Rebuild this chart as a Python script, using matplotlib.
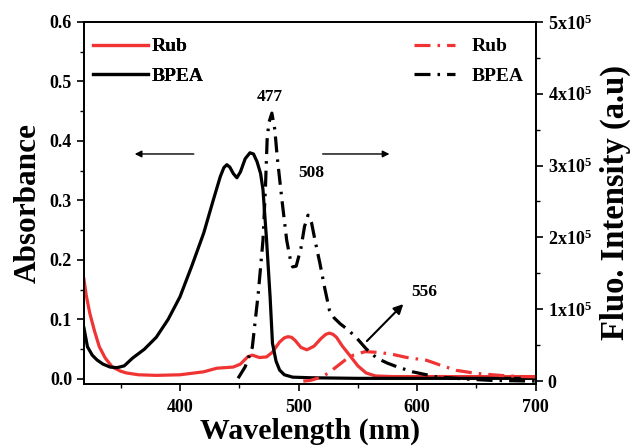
import matplotlib
matplotlib.use("Agg")
import matplotlib.pyplot as plt
import numpy as np
from matplotlib.ticker import MultipleLocator, FixedLocator

plt.rcParams['font.family'] = ['Liberation Serif', 'DejaVu Serif']
plt.rcParams['font.weight'] = 'bold'
plt.rcParams['mathtext.fontset'] = 'custom'
plt.rcParams['mathtext.rm'] = 'Liberation Serif:bold'
plt.rcParams['mathtext.default'] = 'rm'

# BPEA absorbance
bpea_abs_wl = [319, 322, 326, 330, 335, 341, 347, 353, 360, 370, 380, 390, 400, 410, 420, 428,
               434, 437, 439.5, 442, 445, 448, 451, 455, 459, 462, 465, 468, 470, 473, 476, 478,
               481, 484, 488, 495, 510, 550, 600, 650, 700]
bpea_abs = [0.086, 0.054, 0.040, 0.032, 0.025, 0.020, 0.019, 0.022, 0.035, 0.050, 0.070, 0.100,
            0.138, 0.190, 0.245, 0.300, 0.340, 0.355, 0.360, 0.356, 0.345, 0.338, 0.348, 0.370,
            0.380, 0.378, 0.365, 0.345, 0.318, 0.234, 0.138, 0.060, 0.030, 0.015, 0.007, 0.003,
            0.002, 0.001, 0.001, 0.001, 0.001]

# Rub absorbance
rub_abs_wl = [319, 321, 324, 328, 332, 337, 343, 350, 355, 365, 380, 400, 420, 431, 445, 451,
              457, 461, 467, 473, 478, 484, 488, 491, 494, 497, 502, 507, 513, 519, 523, 526,
              529, 532, 537, 543, 550, 557, 565, 580, 620, 700]
rub_abs = [0.168, 0.140, 0.110, 0.080, 0.054, 0.035, 0.020, 0.013, 0.010, 0.007, 0.006, 0.007,
           0.012, 0.018, 0.020, 0.025, 0.037, 0.040, 0.036, 0.037, 0.045, 0.062, 0.069, 0.071,
           0.070, 0.065, 0.053, 0.049, 0.055, 0.068, 0.075, 0.077, 0.075, 0.070, 0.055, 0.040,
           0.022, 0.010, 0.005, 0.004, 0.004, 0.004]

# BPEA fluorescence
bpea_fl_wl = [449, 455, 461, 466, 470, 472, 473.5, 475, 477.5, 480, 482, 486, 490, 493, 495,
              498, 502, 505, 508, 511, 514, 518, 522, 526, 530, 535, 542, 549, 557, 566, 575,
              583, 596, 616, 640, 663, 700]
bpea_fl = [0.04e5, 0.2e5, 0.47e5, 1.22e5, 1.96e5, 2.66e5, 3.36e5, 3.6e5, 3.73e5, 3.5e5, 3.12e5,
           2.52e5, 1.96e5, 1.7e5, 1.59e5, 1.6e5, 1.85e5, 2.15e5, 2.31e5, 2.2e5, 1.95e5, 1.64e5,
           1.3e5, 0.99e5, 0.88e5, 0.8e5, 0.71e5, 0.6e5, 0.45e5, 0.32e5, 0.25e5, 0.2e5, 0.13e5,
           0.06e5, 0.03e5, 0.01e5, 0.0]

# Rub fluorescence
rub_fl_wl = [504, 510, 518, 525, 532, 539, 546, 556, 568, 580, 591, 608, 620, 633, 645, 655,
             670, 685, 700]
rub_fl = [0.0, 0.01e5, 0.05e5, 0.11e5, 0.2e5, 0.29e5, 0.36e5, 0.41e5, 0.4e5, 0.37e5, 0.33e5,
          0.29e5, 0.22e5, 0.15e5, 0.12e5, 0.1e5, 0.08e5, 0.065e5, 0.06e5]

red = '#f03434'
fig = plt.figure(figsize=(6.31, 4.46), dpi=100)
ax = fig.add_axes([0.133, 0.139, 0.716, 0.812])
ax2 = ax.twinx()

lw = 2.3
l1, = ax.plot(rub_abs_wl, rub_abs, color=red, lw=lw, label='Rub')
l2, = ax.plot(bpea_abs_wl, bpea_abs, color='black', lw=lw, label='BPEA')
dash = (0, (5, 2.2, 0.8, 2.2))
l3, = ax2.plot(rub_fl_wl, rub_fl, color=red, lw=lw, ls=dash, label='Rub')
l4, = ax2.plot(bpea_fl_wl, bpea_fl, color='black', lw=lw, ls=dash, label='BPEA')

ax.set_xlim(319, 700)
ax.set_ylim(-0.0085, 0.6)
ax2.set_ylim(-4000, 5e5)

ax.xaxis.set_major_locator(MultipleLocator(100))
ax.xaxis.set_minor_locator(MultipleLocator(50))
ax.yaxis.set_major_locator(MultipleLocator(0.1))
ax.yaxis.set_minor_locator(MultipleLocator(0.05))
ax.yaxis.set_major_formatter(matplotlib.ticker.FormatStrFormatter('%.1f'))
ax2.yaxis.set_major_locator(FixedLocator([0, 1e5, 2e5, 3e5, 4e5, 5e5]))
ax2.yaxis.set_minor_locator(MultipleLocator(0.5e5))
ax2.set_yticklabels(['0', r'1x10$^{5}$', r'2x10$^{5}$', r'3x10$^{5}$', r'4x10$^{5}$', r'5x10$^{5}$'])

for a in (ax, ax2):
    a.tick_params(which='major', direction='out', length=5, width=1.2, labelsize=13)
    a.tick_params(which='minor', direction='out', length=3, width=1.0)
    for s in a.spines.values():
        s.set_linewidth(1.3)
ax.tick_params(axis='x', pad=6)
ax.tick_params(top=False, which='both')

ax.set_xlabel('Wavelength (nm)', fontsize=21.5, fontweight='bold', labelpad=1)
ax.set_ylabel('Absorbance', fontsize=22.5, fontweight='bold', labelpad=5)
ax2.set_ylabel('Fluo. Intensity (a.u)', fontsize=23.5, fontweight='bold', labelpad=6)

leg1 = ax.legend(handles=[l1, l2], loc='upper left', bbox_to_anchor=(-0.005, 0.988), frameon=False,
                 fontsize=14, handlelength=2.8, handletextpad=0.2, labelspacing=0.6,
                 borderaxespad=0.2)
ax.add_artist(leg1)
ax2.legend(handles=[l3, l4], loc='upper right', bbox_to_anchor=(1.0, 0.988), frameon=False,
           fontsize=14, handlelength=2.1, handletextpad=0.9, labelspacing=0.6,
           borderaxespad=0.2)

ax.annotate('', xy=(359.5, 0.378), xytext=(414, 0.378),
            arrowprops=dict(arrowstyle='-|>', color='black', lw=1.0, mutation_scale=10))
ax.annotate('', xy=(579, 0.378), xytext=(518, 0.378),
            arrowprops=dict(arrowstyle='-|>', color='black', lw=1.0, mutation_scale=10))
ax2.annotate('', xy=(590, 1.1e5), xytext=(556, 0.53e5),
             arrowprops=dict(arrowstyle='-|>', color='black', lw=1.5, mutation_scale=14))
ax2.text(476, 3.96e5, '477', ha='center', va='center', fontsize=12.5, fontweight='bold')
ax2.text(511, 2.9e5, '508', ha='center', va='center', fontsize=12.5, fontweight='bold')
ax2.text(606, 1.24e5, '556', ha='center', va='center', fontsize=12.5, fontweight='bold')

fig.savefig('out.png', dpi=100)
